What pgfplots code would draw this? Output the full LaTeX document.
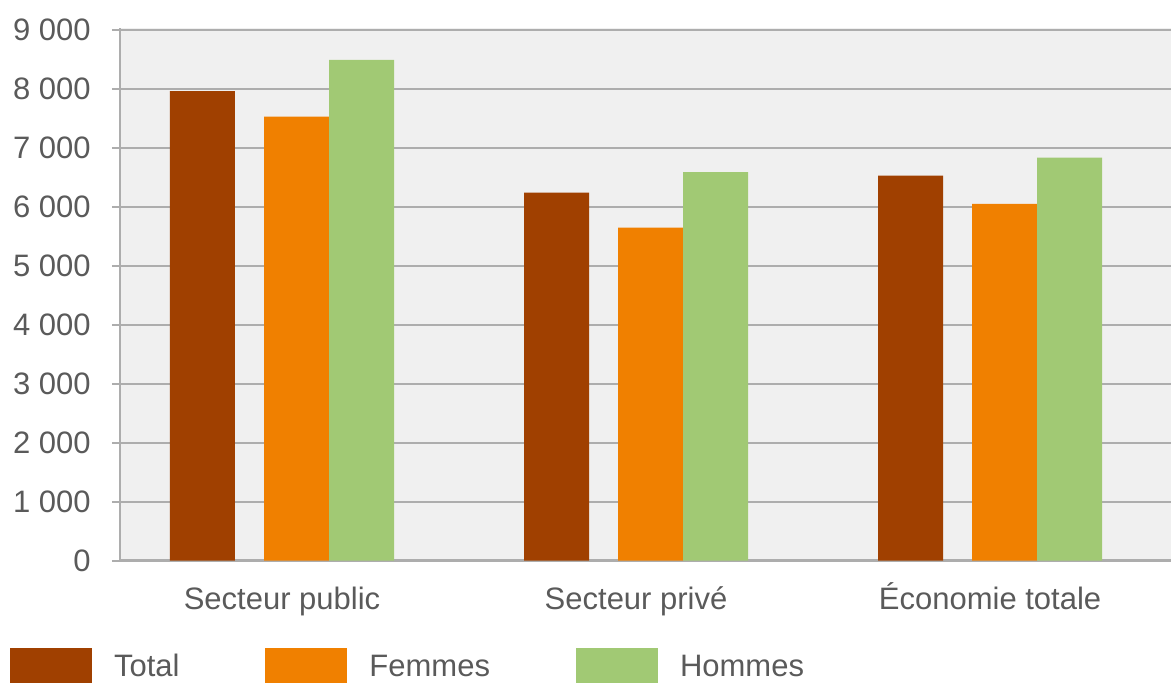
\documentclass[border=0pt]{standalone}
\usepackage{fontspec}
\setmainfont{Liberation Sans}
\usepackage{pgfplots}
\usepackage{pgfplotstable}
\pgfplotsset{compat=1.18}

\definecolor{cTotal}{HTML}{A04000}
\definecolor{cFemmes}{HTML}{F08000}
\definecolor{cHommes}{HTML}{A1C974}
\definecolor{cBg}{HTML}{F0F0F0}
\definecolor{cGrid}{HTML}{ADADAD}
\definecolor{cText}{HTML}{5A5A5A}

\pgfplotsset{sq/.style={legend image code/.code={\fill[##1] (0pt,-8pt) rectangle (41pt,14pt);}}}

% salaire moyen par secteur
\pgfplotstableread{
x total femmes hommes
0 7960 7525 8490
1 6240 5645 6585
2 6525 6050 6830
}\salaires

\begin{document}
\begin{tikzpicture}
\begin{axis}[
  scale only axis, width=525.5pt, height=266.385pt,
  xmin=-0.4576, xmax=2.511, ymin=0, ymax=9030,
  axis lines*=left,
  axis line style={cGrid, line width=1.3pt},
  xtick={0,1,2},
  xticklabels={Secteur public, Secteur privé, Économie totale},
  x tick style={draw=none},
  ytick={0,1000,...,9000},
  ymajorgrids, grid style={cGrid, line width=1pt},
  tick align=outside, major tick length=4pt,
  y tick style={cGrid, line width=1pt},
  axis background/.style={fill=cBg},
  ticklabel style={font=\fontsize{15.5}{18}\selectfont, text=cText},
  yticklabel style={anchor=east, inner sep=0pt, xshift=-10.5pt},
  xticklabel style={anchor=base, inner sep=0pt, yshift=-20.5pt},
  /pgf/number format/assume math mode=true,
  /pgf/number format/1000 sep={\ },
  legend columns=3,
  legend style={at={(axis description cs:-0.10466,-0.16386)}, anchor=north west,
    draw=none, fill=none, inner sep=0pt, outer sep=0pt,
    font=\fontsize{15.5}{18}\selectfont, text=cText,
    nodes={inner sep=0pt, anchor=base west},
    /tikz/every odd column/.append style={column sep=11pt},
    /tikz/every even column/.append style={column sep=43pt}},
]
\addplot[ybar, bar width=0.1836, bar shift=-0.2246, fill=cTotal, draw=none, sq]
  table[x=x, y=total] {\salaires};
\addlegendentry{Total}
\addplot[ybar, bar width=0.1836, bar shift=0.041, fill=cFemmes, draw=none, sq]
  table[x=x, y=femmes] {\salaires};
\addlegendentry{Femmes}
\addplot[ybar, bar width=0.1836, bar shift=0.2246, fill=cHommes, draw=none, sq]
  table[x=x, y=hommes] {\salaires};
\addlegendentry{Hommes}
\end{axis}
\pgfresetboundingbox
\path[use as bounding box] (-60pt,-60.65pt) rectangle (525.5pt,280.35pt);
\end{tikzpicture}
\end{document}
